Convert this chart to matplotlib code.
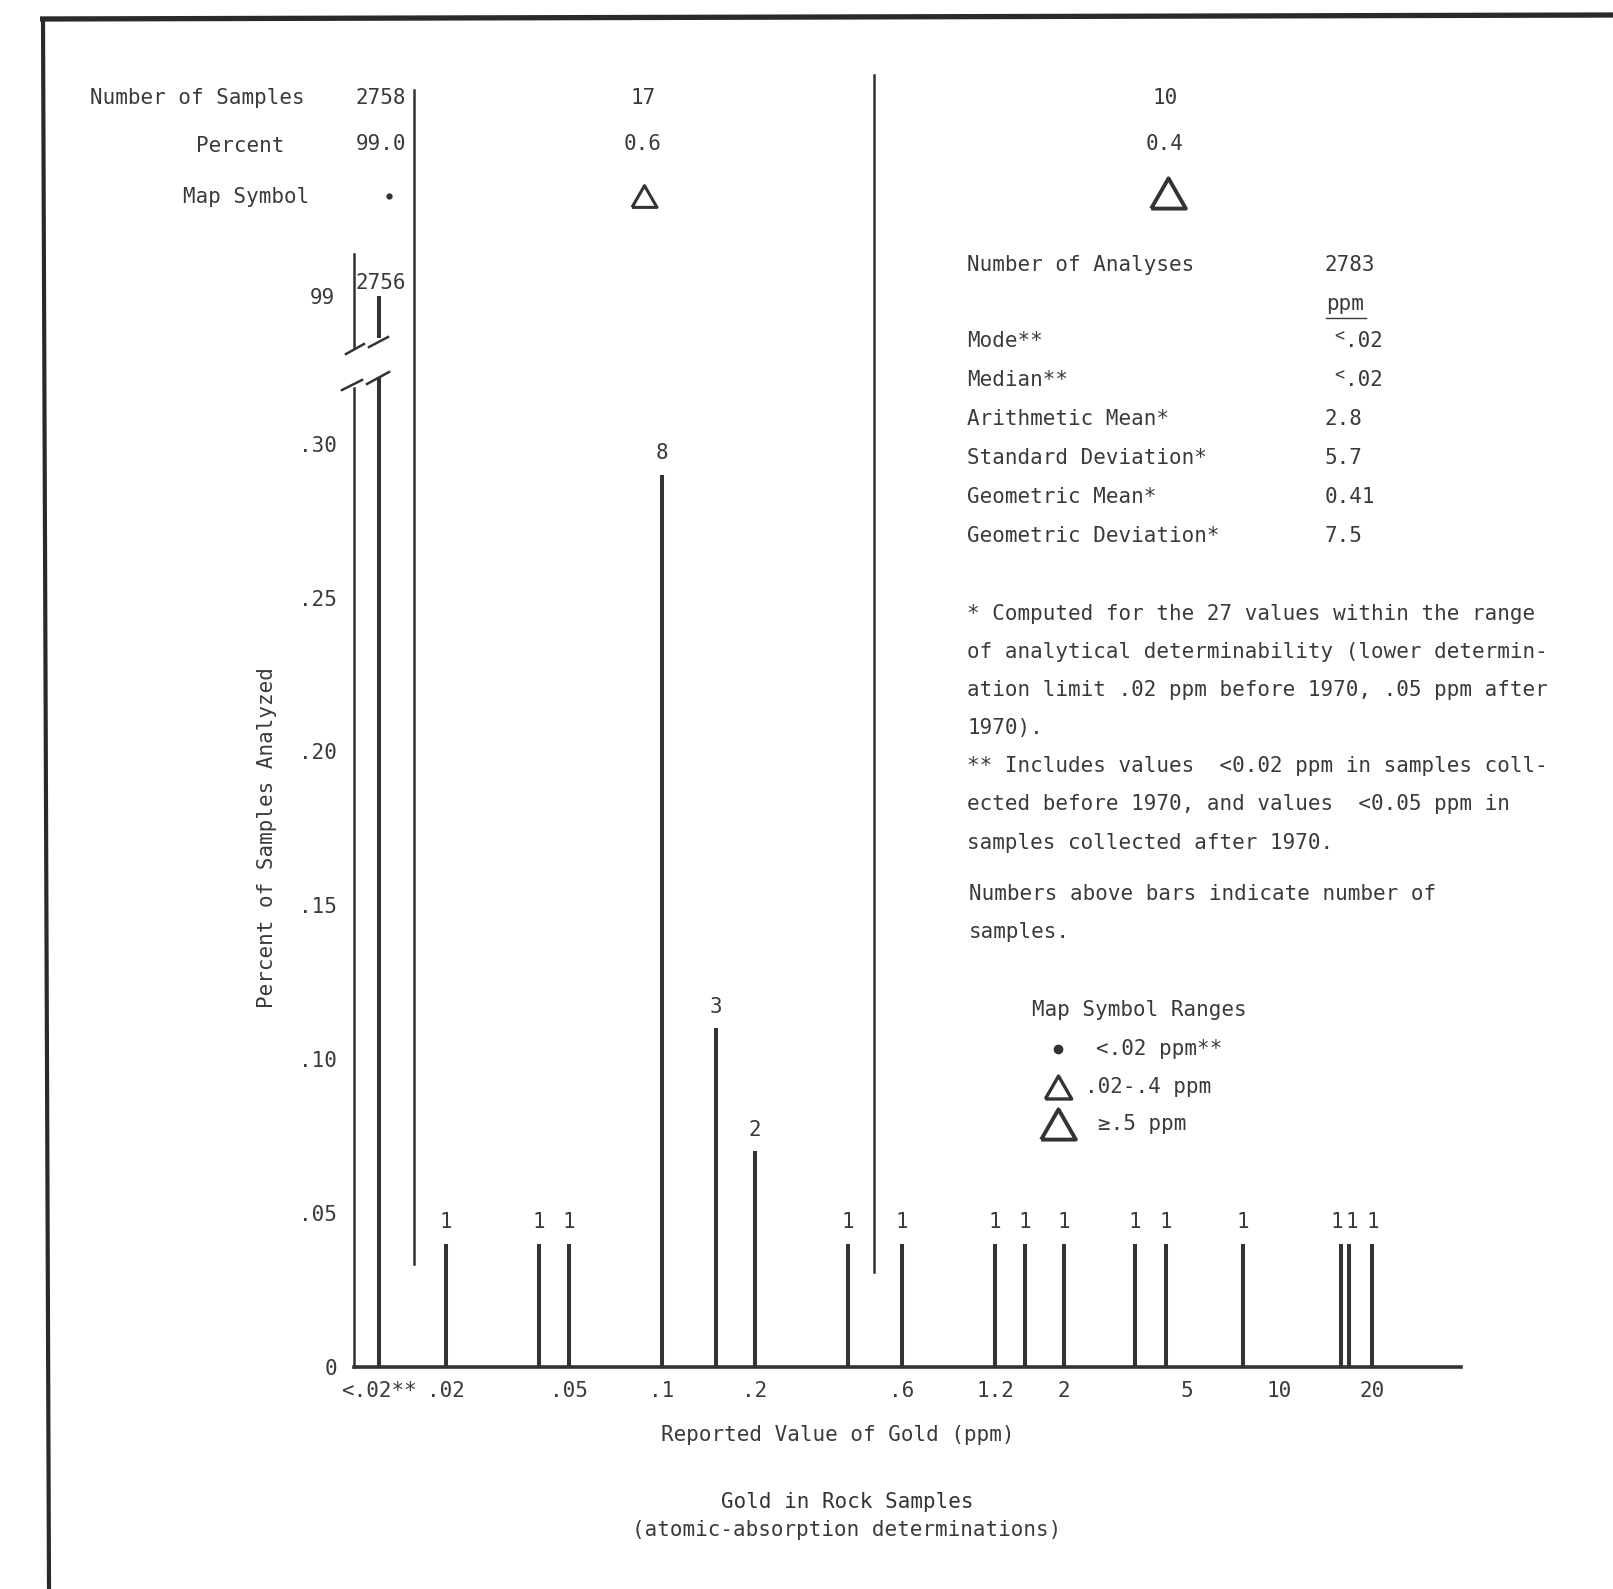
import matplotlib
matplotlib.use('Agg')
import matplotlib.pyplot as plt

# --- data ----------------------------------------------------------------
# reported gold value (ppm); the first entry is the "<.02" class, drawn left of .02
gold_ppm = [0.0122, 0.02, 0.04, 0.05, 0.1, 0.15, 0.2, 0.4, 0.6,
            1.2, 1.5, 2, 3.4, 4.3, 7.6, 15.8, 16.8, 20]
sample_counts = [2756, 1, 1, 1, 8, 3, 2, 1, 1, 1, 1, 1, 1, 1, 1, 1, 1, 1]
percent_analyzed = [99.0, 0.04, 0.04, 0.04, 0.29, 0.11, 0.07, 0.04, 0.04,
                    0.04, 0.04, 0.04, 0.04, 0.04, 0.04, 0.04, 0.04, 0.04]

xtick_values = [0.0122, 0.02, 0.05, 0.1, 0.2, 0.6, 1.2, 2, 5, 10, 20]
xtick_labels = ['<.02**', '.02', '.05', '.1', '.2', '.6', '1.2', '2', '5', '10', '20']
ytick_values = [0, 0.05, 0.10, 0.15, 0.20, 0.25, 0.30]
ytick_labels = ['0', '.05', '.10', '.15', '.20', '.25', '.30']
upper_ticks = [99]
upper_tick_labels = ['99']

# summary table at the top (one column per map symbol range)
range_samples = ['2758', '17', '10']
range_percent = ['99.0', '0.6', '0.4']

stats_labels = ['Number of Analyses', 'Mode**', 'Median**', 'Arithmetic Mean*',
                'Standard Deviation*', 'Geometric Mean*', 'Geometric Deviation*']
stats_values = ['2783', '.02', '.02', '2.8', '5.7', '0.41', '7.5']

notes = ['* Computed for the 27 values within the range',
         'of analytical determinability (lower determin-',
         'ation limit .02 ppm before 1970, .05 ppm after',
         '1970).',
         '** Includes values  <0.02 ppm in samples coll-',
         'ected before 1970, and values  <0.05 ppm in',
         'samples collected after 1970.']
notes2 = ['Numbers above bars indicate number of', 'samples.']

legend_labels = ['<.02 ppm**', '.02-.4 ppm', '\u2265.5 ppm']

# --- figure setup ----------------------------------------------------------
W, H = 1613, 1589
plt.rcParams['font.family'] = ['DejaVu Sans Mono']
FS = 15
INK = '#333333'
TXT = '#3a3a3a'

fig = plt.figure(figsize=(W / 100, H / 100), dpi=100)
fig.patch.set_facecolor('white')


def box(left, top, right, bottom):
    # pixel box -> figure fraction
    return [left / W, 1 - bottom / H, (right - left) / W, (bottom - top) / H]


# overlay in pixel coords for the text and decoration
ov = fig.add_axes([0, 0, 1, 1])
ov.set_xlim(0, W)
ov.set_ylim(H, 0)
ov.axis('off')

# page border (top and left only, as in the scan)
ov.plot([40, W], [19, 15], color='#2a2a2a', lw=3.8, solid_capstyle='butt')
ov.plot([43, 49], [17, H], color='#2a2a2a', lw=3.0, solid_capstyle='butt')

# triangle marker, roughly equilateral
tri = [(-1, -0.87), (1, -0.87), (0, 0.87), (-1, -0.87)]

# --- lower (main) axes ------------------------------------------------------
ax = fig.add_axes(box(354, 377, 1461, 1366.7))
y_top = 0.3217
ax.set_xscale('log')
ax.set_xlim(0.0101, 38.7)
ax.set_ylim(0, y_top)
ax.vlines(gold_ppm, 0, percent_analyzed, color=INK, lw=2.9)

# count labels; the two bars at ~16 ppm sit very close, nudge their labels apart
nudge = {15.8: -3, 16.8: 2}
for x, p, c in zip(gold_ppm[1:], percent_analyzed[1:], sample_counts[1:]):
    ax.annotate(str(c), (x, p), xytext=(nudge.get(x, 0), 11),
                textcoords='offset points', ha='center', va='baseline',
                fontsize=FS, color=TXT)

for s in ['top', 'right']:
    ax.spines[s].set_visible(False)
ax.spines['left'].set_bounds(0, 0.318)
ax.spines['left'].set_linewidth(1.8)
ax.spines['bottom'].set_linewidth(2.6)
ax.spines['left'].set_color(INK)
ax.spines['bottom'].set_color(INK)
ax.set_xticks(xtick_values)
ax.set_xticklabels(xtick_labels)
ax.minorticks_off()
ax.set_yticks(ytick_values)
ax.set_yticklabels(ytick_labels)
ax.tick_params(axis='both', length=0, labelsize=FS, labelcolor=TXT)
ax.tick_params(axis='y', pad=12)
ax.tick_params(axis='x', pad=10)
ax.patch.set_alpha(0)

# --- upper axes (the broken part holding the 99 % bar) ---------------------
ax2 = fig.add_axes(box(354, 254, 1461, 347))
lo, hi = 98.78, 99.18
ax2.set_xscale('log')
ax2.set_xlim(0.0101, 38.7)
ax2.set_ylim(lo, hi)
ax2.vlines(gold_ppm[0], lo + 0.1 * (hi - lo), percent_analyzed[0], color=INK, lw=2.9)
ax2.annotate(str(sample_counts[0]), (gold_ppm[0], percent_analyzed[0]),
             xytext=(1, 5), textcoords='offset points', ha='center',
             va='baseline', fontsize=FS, color=TXT)
for s in ['top', 'right', 'bottom']:
    ax2.spines[s].set_visible(False)
ax2.spines['left'].set_linewidth(1.8)
ax2.spines['left'].set_color(INK)
ax2.set_xticks([])
ax2.minorticks_off()
ax2.set_yticks(upper_ticks)
ax2.set_yticklabels(upper_tick_labels)
ax2.tick_params(axis='y', length=0, labelsize=FS, labelcolor=TXT, pad=14)
ax2.patch.set_alpha(0)

# break marks (slashes) on the spine and the big bar
for (x0, y0, x1, y1) in [(346, 354, 364, 344), (369, 347, 388, 337),
                         (342, 390, 362, 380), (367, 384, 389, 372)]:
    ov.plot([x0, x1], [y0, y1], color=INK, lw=1.8)

# separators between the map-symbol ranges
ov.plot([414, 414], [90, 1264], color=INK, lw=1.8)
ov.plot([874, 874], [75, 1272], color=INK, lw=1.8)

# --- summary table on top ---------------------------------------------------
ov.text(90, 98, 'Number of Samples', fontsize=FS, color=TXT, va='center')
ov.text(196, 146, 'Percent', fontsize=FS, color=TXT, va='center')
ov.text(183, 197, 'Map Symbol', fontsize=FS, color=TXT, va='center')
for xc, n, p in zip([381, 643, 1165], range_samples, range_percent):
    ov.text(xc, 98, n, fontsize=FS, color=TXT, ha='center', va='center')
    ov.text(xc, 144, p, fontsize=FS, color=TXT, ha='center', va='center')
ov.plot(389, 196, 'o', ms=3.5, color=INK)
ov.plot(644, 196, marker=tri, ms=18, mfc='none', mec=INK, mew=2.2)
ov.plot(1168, 193, marker=tri, ms=25, mfc='none', mec=INK, mew=2.8)

# --- statistics --------------------------------------------------------------
stat_rows = [265, 341, 380, 419, 458, 497, 536]
for yy, lab, val in zip(stat_rows, stats_labels, stats_values):
    ov.text(967, yy, lab, fontsize=FS, color=TXT, va='center')
    if lab.endswith('**'):
        ov.text(1334, yy - 5, '<', fontsize=12, color=TXT, va='center')
        ov.text(1345, yy, val, fontsize=FS, color=TXT, va='center')
    else:
        ov.text(1325, yy, val, fontsize=FS, color=TXT, va='center')
ov.text(1326, 304, 'ppm', fontsize=FS, color=TXT, va='center')
ov.plot([1326, 1366], [318, 318], color=TXT, lw=1.0)

for i, line in enumerate(notes):
    ov.text(967, 614 + i * 38.1, line, fontsize=FS, color=TXT, va='center')
for i, line in enumerate(notes2):
    ov.text(969, 894 + i * 38.5, line, fontsize=FS, color=TXT, va='center')

# --- map symbol legend ---------------------------------------------------------
ov.text(1032, 1010, 'Map Symbol Ranges', fontsize=FS, color=TXT, va='center')
ov.plot(1058, 1049, 'o', ms=6, color=INK)
ov.text(1096, 1049, legend_labels[0], fontsize=FS, color=TXT, va='center')
ov.plot(1058, 1087, marker=tri, ms=19, mfc='none', mec=INK, mew=2.4)
ov.text(1085, 1087, legend_labels[1], fontsize=FS, color=TXT, va='center')
ov.plot(1058, 1124, marker=tri, ms=25, mfc='none', mec=INK, mew=2.8)
ov.text(1098, 1124, legend_labels[2], fontsize=FS, color=TXT, va='center')

# --- axis titles and caption ---------------------------------------------------
ov.text(838, 1435, 'Reported Value of Gold (ppm)', fontsize=FS, color=TXT,
        ha='center', va='center')
ov.text(267, 838, 'Percent of Samples Analyzed', fontsize=FS, color=TXT,
        ha='center', va='center', rotation=90)
ov.text(847, 1502, 'Gold in Rock Samples', fontsize=FS, color='#333333',
        ha='center', va='center')
ov.text(847, 1530, '(atomic-absorption determinations)', fontsize=FS, color=TXT,
        ha='center', va='center')

plt.savefig('out.png', dpi=100)
